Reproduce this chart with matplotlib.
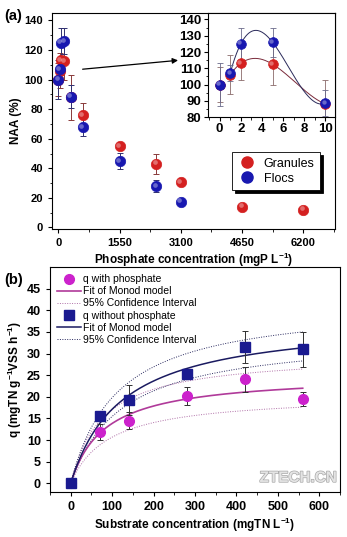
import matplotlib
matplotlib.use('Agg')
import matplotlib.pyplot as plt
import numpy as np
from matplotlib.ticker import MultipleLocator
from matplotlib.transforms import offset_copy
from matplotlib.lines import Line2D
import matplotlib.patheffects as pe

plt.rcParams['font.family'] = ['Liberation Sans', 'DejaVu Sans']
plt.rcParams['mathtext.fontset'] = 'custom'
plt.rcParams['mathtext.rm'] = 'Liberation Sans'
plt.rcParams['mathtext.bf'] = 'Liberation Sans:bold'
plt.rcParams['mathtext.default'] = 'bf'

# (a) nitrite accumulation activity vs phosphate dose
phos = [0, 31, 62, 155, 310, 620, 1550, 2480, 3100, 4650, 6200]
granules = [100, 106, 113, 112.5, 88, 76, 55, 43, 30.5, 14, 12]
granules_err = [11, 12, 10, 13, 15, 8, 2, 7, 1.5, 1.5, 2]
phos_flocs = [0, 31, 62, 155, 310, 620, 1550, 2480, 3100]
flocs = [100, 107, 125, 126, 88.5, 68, 45, 28, 17.5]
flocs_err = [13, 5, 10, 9, 8, 6, 5.5, 4, 1]

# inset: low doses (mM)
dose = [0, 1, 2, 5, 10]
x_ticks_a = [0, 1550, 3100, 4650, 6200]

# (b) specific nitrogen removal rate vs substrate
substrate = [0, 70, 140, 280, 420, 560]
q_phos = [0, 11.8, 14.5, 20.2, 24.0, 19.4]
q_phos_err = [0, 1.8, 2.0, 2.0, 3.0, 1.6]
q_nophos = [0, 15.5, 19.2, 25.3, 31.5, 31.0]
q_nophos_err = [0, 1.2, 3.5, 1.0, 3.7, 4.0]

# Monod parameters (qmax, Ks) and 95% CI curves
monod_phos = (25.2, 82)
monod_phos_ci = [(30.0, 76), (20.5, 92)]
monod_nophos = (38.2, 123)
monod_nophos_ci = [(42.0, 112), (34.5, 123)]

RED = '#d42020'
BLUE = '#1818b0'
MAG = '#cc22cc'
NAVY = '#1a1a90'


def monod(s, qmax, ks):
    return qmax * s / (ks + s)


def spheres(ax, x, y, color, size=7.5, zorder=5):
    """Ball markers: base disc plus a small highlight."""
    ax.plot(x, y, 'o', ms=size, mfc=color, mec=color, mew=0.5, zorder=zorder)
    tr = offset_copy(ax.transData, fig=ax.figure, x=-1.0, y=1.0, units='points')
    ax.plot(x, y, 'o', ms=size * 0.45, mfc='white', mec='none', alpha=0.35,
            transform=tr, zorder=zorder + 0.1)


def style_ticks(ax, size):
    ax.tick_params(direction='out', length=3, width=0.8, labelsize=size,
                   top=False, right=False)
    ax.tick_params(which='minor', direction='out', length=1.8, width=0.6,
                   top=False, right=False)
    for lab in ax.get_xticklabels() + ax.get_yticklabels():
        lab.set_fontweight('bold')


fig = plt.figure(figsize=(3.47, 5.37), dpi=100)

# ---------- panel (a) ----------
ax1 = fig.add_axes([0.150, 0.5736, 0.815, 0.4022])
ax1.errorbar(phos, granules, yerr=granules_err, fmt='none', ecolor='#8a3a3a',
             elinewidth=0.7, capsize=2, capthick=0.7, zorder=3)
ax1.errorbar(phos_flocs, flocs, yerr=flocs_err, fmt='none', ecolor='#303070',
             elinewidth=0.7, capsize=2, capthick=0.7, zorder=3)
spheres(ax1, phos, granules, RED)
spheres(ax1, phos_flocs, flocs, BLUE, zorder=6)
ax1.set_xlim(-160, 7000)
ax1.set_ylim(-1, 145)
ax1.set_xticks(x_ticks_a)
ax1.xaxis.set_minor_locator(MultipleLocator(775))
ax1.yaxis.set_major_locator(MultipleLocator(20))
ax1.yaxis.set_minor_locator(MultipleLocator(10))
style_ticks(ax1, 8)
ax1.set_ylabel('NAA (%)', fontsize=8.5, fontweight='bold', labelpad=2)
ax1.set_xlabel('Phosphate concentration (mgP L$^{-1}$)', fontsize=8.5,
               fontweight='bold', labelpad=2)
ax1.annotate('', xy=(3030, 113), xytext=(614, 107),
             arrowprops=dict(arrowstyle='-|>', color='black', lw=0.9,
                             mutation_scale=8, shrinkA=0, shrinkB=0))
handles = [Line2D([], [], ls='none', marker='o', ms=8, mfc=RED, mec=RED),
           Line2D([], [], ls='none', marker='o', ms=8, mfc=BLUE, mec=BLUE)]
leg = ax1.legend(handles, ['Granules', 'Flocs'], loc='upper right',
                 bbox_to_anchor=(0.97, 0.385), fontsize=9, frameon=True,
                 fancybox=False, edgecolor='black', framealpha=1,
                 shadow={'color': 'black', 'alpha': 1}, handletextpad=0.5,
                 borderpad=0.45, labelspacing=0.25, handlelength=1.6)
leg.get_frame().set_linewidth(0.6)
fig.text(0.012, 0.963, '(a)', fontsize=10.5, fontweight='bold')

# inset
ax2 = fig.add_axes([0.5994, 0.7821, 0.366, 0.1937])
ax2.errorbar(dose, granules[:5], yerr=granules_err[:5], fmt='none',
             ecolor='#8a6a6a', elinewidth=0.6, capsize=2, capthick=0.6, zorder=3)
ax2.errorbar(dose, flocs[:5], yerr=flocs_err[:5], fmt='none',
             ecolor='#6a6a8a', elinewidth=0.6, capsize=2, capthick=0.6, zorder=3)
xs = np.linspace(1, 10, 200)
cg = np.polyfit(dose[1:], granules[1:5], 3)
cf = np.polyfit(dose[1:], flocs[1:5], 3)
ax2.plot(xs, np.polyval(cg, xs), color='#7a2a3a', lw=0.7, zorder=2)
ax2.plot(xs, np.polyval(cf, xs), color='#2a2a5a', lw=0.7, zorder=2)
spheres(ax2, dose, granules[:5], RED, size=7)
spheres(ax2, dose, flocs[:5], BLUE, size=7, zorder=6)
ax2.set_xlim(-1.1, 10.9)
ax2.set_ylim(80, 144)
ax2.xaxis.set_major_locator(MultipleLocator(2))
ax2.xaxis.set_minor_locator(MultipleLocator(1))
ax2.yaxis.set_major_locator(MultipleLocator(10))
ax2.yaxis.set_minor_locator(MultipleLocator(5))
style_ticks(ax2, 9.5)
ax2.tick_params(pad=1.5)

# ---------- panel (b) ----------
ax3 = fig.add_axes([0.1441, 0.0838, 0.8357, 0.419])
s = np.linspace(0, 560, 200)
for qm, ks in monod_phos_ci:
    ax3.plot(s, monod(s, qm, ks), ls=(0, (1, 1.5)), color='#b070a8', lw=0.7)
for qm, ks in monod_nophos_ci:
    ax3.plot(s, monod(s, qm, ks), ls=(0, (1, 1.5)), color='#2a2a60', lw=0.7)
ax3.plot(s, monod(s, *monod_phos), color='#b03a9a', lw=1.2)
ax3.plot(s, monod(s, *monod_nophos), color='#1a1a60', lw=1.1)
ax3.errorbar(substrate, q_phos, yerr=q_phos_err, fmt='o', ms=7, mfc=MAG,
             mec=MAG, ecolor='#303030', elinewidth=0.7, capsize=2.5,
             capthick=0.7, zorder=5)
ax3.errorbar(substrate, q_nophos, yerr=q_nophos_err, fmt='s', ms=6.5, mfc=NAVY,
             mec=NAVY, ecolor='#303030', elinewidth=0.7, capsize=2.5,
             capthick=0.7, zorder=6)
ax3.set_xlim(-50, 650)
ax3.set_ylim(-2, 50)
ax3.xaxis.set_major_locator(MultipleLocator(100))
ax3.xaxis.set_minor_locator(MultipleLocator(50))
ax3.set_yticks(np.arange(0, 50, 5))
style_ticks(ax3, 9)
ax3.set_ylabel('q (mgTN g$^{-1}$VSS h$^{-1}$)', fontsize=8.5,
               fontweight='bold', labelpad=2)
ax3.set_xlabel('Substrate concentration (mgTN L$^{-1}$)', fontsize=8.5,
               fontweight='bold', labelpad=2)
handles_b = [
    Line2D([], [], ls='none', marker='o', ms=7, mfc=MAG, mec=MAG),
    Line2D([], [], color='#b03a9a', lw=1.2),
    Line2D([], [], color='#b070a8', lw=0.7, ls=(0, (1, 1.5))),
    Line2D([], [], ls='none', marker='s', ms=6.5, mfc=NAVY, mec=NAVY),
    Line2D([], [], color='#1a1a60', lw=1.1),
    Line2D([], [], color='#2a2a60', lw=0.7, ls=(0, (1, 1.5))),
]
labels_b = ['q with phosphate', 'Fit of Monod model', '95% Confidence Interval',
            'q without phosphate', 'Fit of Monod model', '95% Confidence Interval']
ax3.legend(handles_b, labels_b, loc='upper left', bbox_to_anchor=(0.0, 1.0),
           frameon=False, fontsize=7.5, handlelength=2.3, handletextpad=0.2,
           labelspacing=0.2, borderpad=0.2)
fig.text(0.012, 0.472, '(b)', fontsize=10.5, fontweight='bold')

# site mark in the empty lower-right corner of panel (b)
fig.text(0.97, 0.11, 'ZTECH.CN', ha='right', va='center', fontsize=11,
         fontweight='bold', color='#e4e4e4',
         path_effects=[pe.withStroke(linewidth=1.0, foreground='#a8a8a8')])

fig.savefig('out.png', dpi=100)
